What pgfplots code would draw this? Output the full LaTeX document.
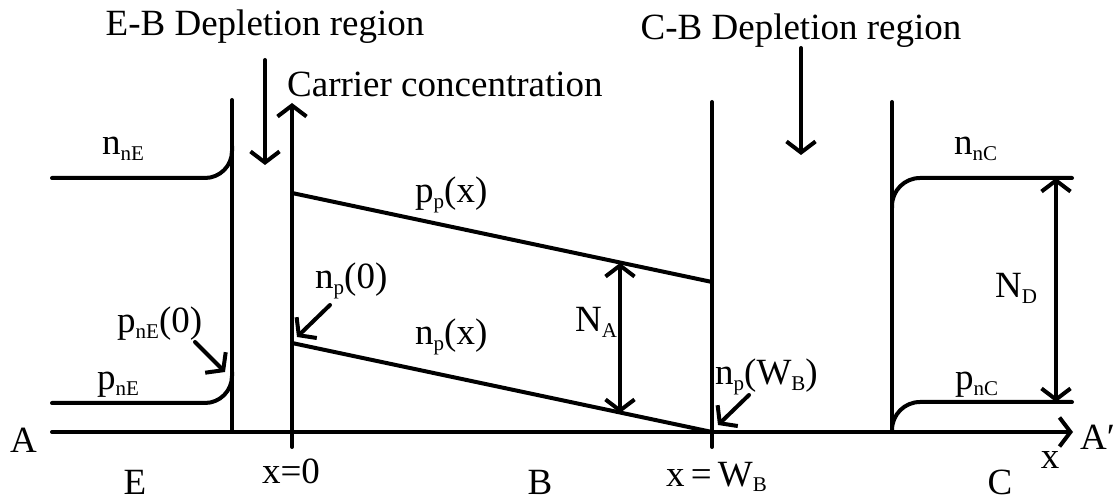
\documentclass[border=0pt]{standalone}
\usepackage{fontspec}
\setmainfont{Liberation Serif}
\usepackage{pgfplots}
\pgfplotsset{compat=1.18}
\usetikzlibrary{arrows.meta}

\newcommand\lbl{\fontsize{37}{40}\selectfont}
\newcommand\sub[1]{\raisebox{-6pt}{\fontsize{21}{21}\selectfont #1}}

\begin{document}
\begin{tikzpicture}[
  ln/.style={draw=black, line width=4pt, line cap=round, line join=round, mark=none},
  lab/.style={font=\lbl, inner sep=0pt, text=black},
  >={Straight Barb[length=11pt,width=29pt]},
]
\begin{axis}[
  name=ax,
  width=1117pt, height=502pt, scale only axis,
  xmin=0, xmax=1117, ymin=0, ymax=502, y dir=reverse,
  hide axis, clip=false,
  cycle list={{black,mark=none}},
]
% position axis and carrier-concentration axis
\addplot[ln,->] coordinates {(52,432) (1073,432)};
\addplot[ln,->] coordinates {(292,447) (292,103)};

% depletion-region boundaries
\addplot[ln] coordinates {(232,100) (232,432)};
\addplot[ln] coordinates {(712,102) (712,447)};
\addplot[ln] coordinates {(892,102) (892,432)};

% emitter: majority and minority carriers
\addplot[ln,rounded corners=27pt] coordinates {(52,178) (232,178) (232,146)};
\addplot[ln,rounded corners=27pt] coordinates {(52,403) (232,403) (232,372)};

% base: holes and electrons
\addplot[ln] coordinates {(292,193) (712,282)};
\addplot[ln] coordinates {(292,343) (712,432)};

% collector: majority and minority carriers
\addplot[ln,rounded corners=28pt] coordinates {(892,208) (892,178) (1072,178)};
\addplot[ln,rounded corners=28pt] coordinates {(892,432) (892,402) (1072,402)};

% doping-level spans
\addplot[ln,<->] coordinates {(620,263) (620,413)};
\addplot[ln,<->] coordinates {(1056,178) (1056,402)};

% depletion-region pointers
\addplot[ln,->] coordinates {(265,60) (265,165)};
\addplot[ln,->] coordinates {(801,48) (801,155)};

% boundary-value pointers
\addplot[ln,->] coordinates {(195,342) (225,372)};
\addplot[ln,->] coordinates {(330,305) (297,337)};
\addplot[ln,->] coordinates {(749,395) (718,425)};

% labels
\node[lab,anchor=base] at (axis cs:265,36) {E-B Depletion region};
\node[lab,anchor=base] at (axis cs:801,40) {C-B Depletion region};
\node[lab,anchor=base west] at (axis cs:287,97) {Carrier concentration};

\node[lab,anchor=base west] at (axis cs:102,155) {n\sub{nE}};
\node[lab,anchor=base west] at (axis cs:117,333) {p\sub{nE}(0)};
\node[lab,anchor=base west] at (axis cs:97,390) {p\sub{nE}};

\node[lab,anchor=base west] at (axis cs:415,203) {p\sub{p}(x)};
\node[lab,anchor=base west] at (axis cs:415,345) {n\sub{p}(x)};
\node[lab,anchor=base west] at (axis cs:315,289) {n\sub{p}(0)};
\node[lab,anchor=base west] at (axis cs:575,332) {N\sub{A}};
\node[lab,anchor=base west] at (axis cs:715,385) {n\sub{p}(W\sub{B})};

\node[lab,anchor=base west] at (axis cs:954,155) {n\sub{nC}};
\node[lab,anchor=base west] at (axis cs:955,390) {p\sub{nC}};
\node[lab,anchor=base west] at (axis cs:995,298) {N\sub{D}};

\node[lab,anchor=base west] at (axis cs:10,453) {A};
\node[lab,anchor=base west] at (axis cs:1080,450) {A\char"2032};
\node[lab,anchor=base] at (axis cs:1050,468) {x};

\node[lab,anchor=base] at (axis cs:135,495) {E};
\node[lab,anchor=base] at (axis cs:291,484) {x=0};
\node[lab,anchor=base] at (axis cs:540,495) {B};
\node[lab,anchor=base west] at (axis cs:666,486) {x\,=\,W\sub{B}};
\node[lab,anchor=base] at (axis cs:1000,495) {C};
\end{axis}
\pgfresetboundingbox
\path[use as bounding box] (ax.south west) rectangle (ax.north east);
\end{tikzpicture}
\end{document}
